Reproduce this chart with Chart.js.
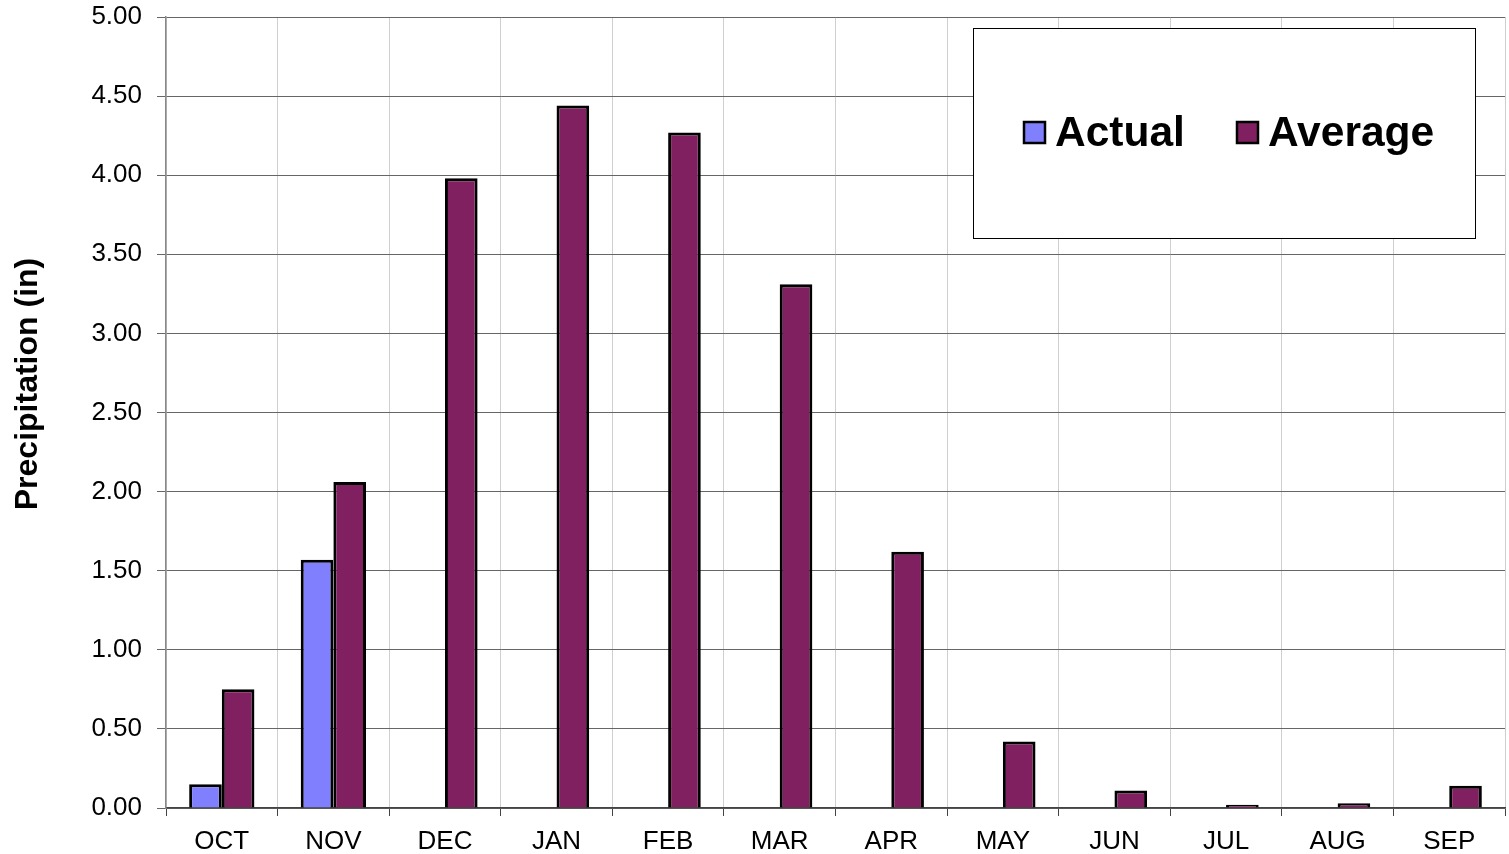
<!DOCTYPE html>
<html>
<head>
<meta charset="utf-8">
<script src="https://cdn.jsdelivr.net/npm/chart.js@4/dist/chart.umd.min.js"></script>
<style>
html,body{margin:0;padding:0;background:#fff;}
canvas{display:block;}
</style>
</head>
<body>
<canvas id="c" width="1509" height="854"></canvas>
<script>
const months = ['OCT','NOV','DEC','JAN','FEB','MAR','APR','MAY','JUN','JUL','AUG','SEP'];
const actual = [0.15, 1.57, null, null, null, null, null, null, null, null, null, null];
const average = [0.75, 2.06, 3.98, 4.44, 4.27, 3.31, 1.62, 0.42, 0.11, 0.02, 0.03, 0.14];
const yTicks = [0, 0.5, 1, 1.5, 2, 2.5, 3, 3.5, 4, 4.5, 5];
const yTitle = 'Precipitation (in)';

const FONT = '"Liberation Sans", Arial, sans-serif';

const yTitlePlugin = {
  id: 'yTitlePlugin',
  afterDraw(chart) {
    const ctx = chart.ctx;
    ctx.save();
    ctx.translate(28, 384);
    ctx.rotate(-Math.PI / 2);
    ctx.font = 'bold 32px ' + FONT;
    ctx.fillStyle = '#000';
    ctx.textAlign = 'center';
    ctx.textBaseline = 'middle';
    ctx.fillText(yTitle, 0, 0);
    ctx.restore();
  }
};

const boxLegend = {
  id: 'boxLegend',
  afterDraw(chart) {
    const ctx = chart.ctx;
    const bx = 973, by = 28, bw = 502, bh = 210;
    ctx.save();
    ctx.fillStyle = '#fff';
    ctx.fillRect(bx, by, bw, bh);
    ctx.strokeStyle = '#000';
    ctx.lineWidth = 1;
    ctx.strokeRect(bx + 0.5, by + 0.5, bw, bh);
    ctx.font = 'bold 42.5px ' + FONT;
    ctx.textBaseline = 'middle';
    ctx.textAlign = 'left';
    const items = chart.data.datasets;
    const xs = [1024, 1237];
    const cy = 133;
    items.forEach((ds, i) => {
      const sx = xs[i];
      ctx.fillStyle = ds.backgroundColor;
      ctx.fillRect(sx, cy - 11, 21, 21);
      ctx.lineWidth = 2.5;
      ctx.strokeStyle = '#000';
      ctx.strokeRect(sx, cy - 11, 21, 21);
      ctx.fillStyle = '#000';
      ctx.fillText(ds.label, sx + 31, cy + 1);
    });
    ctx.restore();
  }
};

new Chart(document.getElementById('c'), {
  type: 'bar',
  data: {
    labels: months,
    datasets: [
      { label: 'Actual', data: actual, backgroundColor: '#8080FF', borderColor: '#000', borderWidth: 3,
        categoryPercentage: 0.585, barPercentage: 1.0 },
      { label: 'Average', data: average, backgroundColor: '#802060', borderColor: '#000', borderWidth: 3,
        categoryPercentage: 0.585, barPercentage: 1.0 }
    ]
  },
  options: {
    responsive: false,
    devicePixelRatio: 1,
    animation: false,
    layout: { padding: { top: 17, right: 4, left: 0, bottom: 0 } },
    plugins: {
      legend: { display: false },
      tooltip: { enabled: false }
    },
    scales: {
      x: {
        grid: { color: '#cfcfcf', lineWidth: 1, offset: true, tickLength: 8, tickColor: '#444' },
        border: { color: '#444', width: 1.5 },
        ticks: { color: '#000', font: { family: FONT, size: 26 }, padding: 10, maxRotation: 0 },
        afterFit(s) { s.height = 46; s.paddingLeft = 0; s.paddingRight = 0; }
      },
      y: {
        min: 0, max: 5,
        afterBuildTicks(s) { s.ticks = yTicks.map(v => ({ value: v })); },
        grid: { color: '#666', lineWidth: 1, tickLength: 9, tickColor: '#666' },
        border: { color: '#888', width: 1.5 },
        ticks: { color: '#000', font: { family: FONT, size: 26 }, padding: 15,
                 callback: v => Number(v).toFixed(2) },
        title: { display: false },
        afterFit(s) { s.width = 166; s.paddingTop = 0; s.paddingBottom = 0; }
      }
    }
  },
  plugins: [boxLegend, yTitlePlugin]
});
</script>
</body>
</html>
